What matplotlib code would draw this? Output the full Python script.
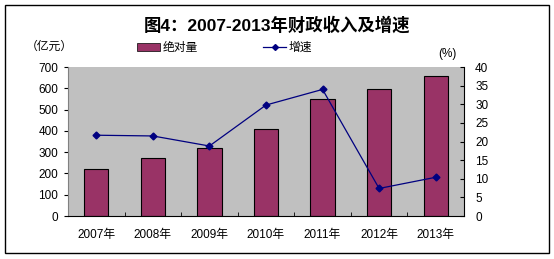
import matplotlib
matplotlib.use('Agg')
import matplotlib.pyplot as plt
from matplotlib.patches import Rectangle, Patch
from matplotlib.lines import Line2D

# 字體: 數字用 Liberation Sans, 中文用 Noto Sans CJK SC
plt.rcParams['font.family'] = ['Liberation Sans', 'Noto Sans CJK SC']

# 資料
years = ['2007年', '2008年', '2009年', '2010年', '2011年', '2012年', '2013年']
amount = [219, 271, 318, 407, 548, 595, 658]  # 绝对量(亿元)
growth = [21.7, 21.5, 18.8, 29.8, 34.0, 7.4, 10.4]  # 增速(%)

fig = plt.figure(figsize=(5.54, 2.59), dpi=100)
fig.patch.set_facecolor('white')

# 外框
fig.patches.append(Rectangle((0.009, 0.023), 0.982, 0.958, transform=fig.transFigure,
                             fill=False, edgecolor='black', linewidth=1))

ax = fig.add_axes([0.1227, 0.166, 0.7148, 0.575])
ax.set_facecolor('#C0C0C0')
x = range(len(years))
ax.bar(x, amount, width=0.43, color='#993366', edgecolor='black', linewidth=0.8, zorder=2)
ax.set_xlim(-0.5, len(years) - 0.5)
ax.set_ylim(0, 700)
ax.set_yticks(range(0, 701, 100))
ax.set_xticks(x)
ax.set_xticklabels(years)
ax.set_xticks([i + 0.5 for i in range(len(years) - 1)], minor=True)
ax.tick_params(axis='x', which='major', length=0, pad=9, labelsize=8.5)
ax.tick_params(axis='x', which='minor', direction='in', length=3)
ax.tick_params(axis='y', direction='out', length=3, labelsize=8.5, pad=4)
for s in ['top', 'right']:
    ax.spines[s].set_visible(False)
ax.spines['left'].set_color('#808080')
ax.spines['bottom'].set_color('black')

ax2 = ax.twinx()
ax2.plot(x, growth, color='#000080', marker='D', markersize=3.5, linewidth=0.9, zorder=3)
ax2.set_ylim(0, 40)
ax2.set_yticks(range(0, 41, 5))
ax2.tick_params(axis='y', direction='in', length=3, labelsize=8.5, pad=8)
for s in ['top', 'left', 'bottom']:
    ax2.spines[s].set_visible(False)
ax2.spines['right'].set_color('black')
ax2.patch.set_visible(False)

# 標題與單位
fig.text(0.5, 0.905, '图4：2007-2013年财政收入及增速', ha='center', va='center',
         fontsize=12.5, fontweight='bold')
fig.text(0.088, 0.82, '（亿元）', ha='center', va='center', fontsize=8.5)
fig.text(0.808, 0.79, '(%)', ha='center', va='center', fontsize=8.5)

# 圖例
handles = [Patch(facecolor='#993366', edgecolor='black', linewidth=0.5),
           Line2D([0], [0], color='#000080', marker='D', markersize=3, linewidth=0.9)]
fig.legend(handles, ['绝对量', '增速'], loc='center', bbox_to_anchor=(0.405, 0.815), ncol=2,
           frameon=False, fontsize=8.5, columnspacing=5.5, handlelength=2.0, handletextpad=0.2,
           handleheight=0.6)

fig.savefig('out.png', dpi=100)
